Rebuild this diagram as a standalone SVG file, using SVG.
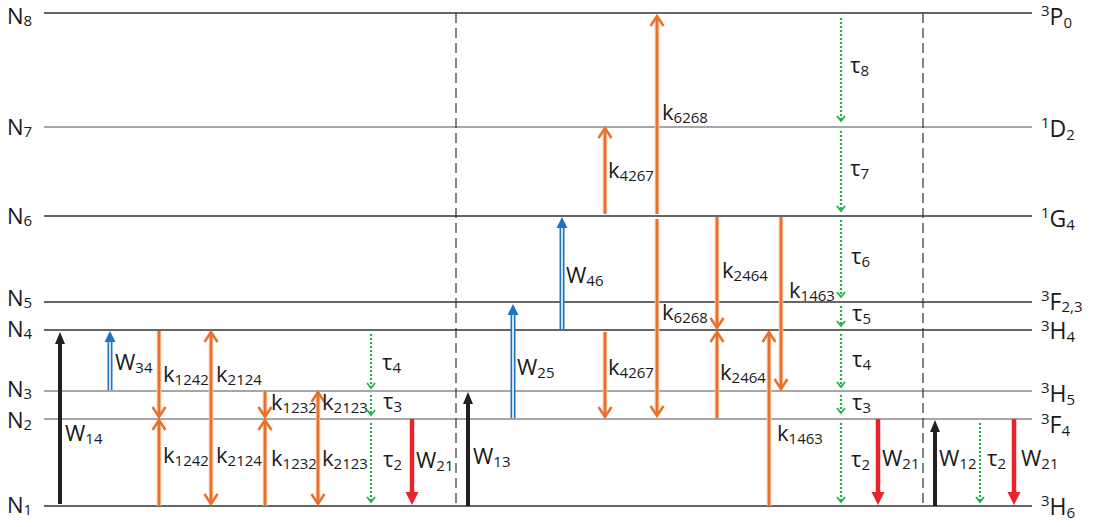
<svg xmlns="http://www.w3.org/2000/svg" width="1099" height="527" viewBox="0 0 1099 527">
<style>
text{font-family:"Open Sans","Noto Sans","DejaVu Sans",sans-serif;font-size:22px;fill:#1a1a1a}
.s{font-size:15px}
.lab{font-size:23px}
.lab .s{font-size:15px}
.nl{font-size:22px}
.nl .s{font-size:15px}
.lvl{stroke:#333;stroke-width:1.3}
.lg{stroke:#8a8a8a;stroke-width:1.5}
.sep{stroke:#333;stroke-width:1.2;stroke-dasharray:10 5}
.blk{stroke:#231f20;stroke-width:4;marker-end:url(#mk)}
.red{stroke:#e8232a;stroke-width:4.5;marker-end:url(#mr)}
.blu{stroke:#1f74c1;stroke-width:5;marker-end:url(#mb)}
.bluw{stroke:#fff;stroke-width:1.6}
.halo{stroke:#f6c09a;stroke-width:4.5}
.org{stroke:#e8702a;stroke-width:2.5;marker-end:url(#mo)}
.org2{stroke:#e8702a;stroke-width:2.5;marker-end:url(#mo);marker-start:url(#mo)}
.grn{stroke:#22b04b;stroke-width:2.2;stroke-dasharray:2 2;marker-end:url(#mg)}
</style>
<defs>
<marker id="mk" markerUnits="userSpaceOnUse" markerWidth="14" markerHeight="14" orient="auto" refX="0" refY="0" overflow="visible"><path d="M0,-5 L12,0 L0,5 Z" fill="#231f20"/></marker>
<marker id="mr" markerUnits="userSpaceOnUse" markerWidth="14" markerHeight="14" orient="auto" refX="0" refY="0" overflow="visible"><path d="M0,-6.5 L13,0 L0,6.5 Z" fill="#e8232a"/></marker>
<marker id="mb" markerUnits="userSpaceOnUse" markerWidth="14" markerHeight="14" orient="auto" refX="0" refY="0" overflow="visible"><path d="M0,-5.5 L11,0 L0,5.5 Z" fill="#1f74c1"/></marker>
<marker id="mo" markerUnits="userSpaceOnUse" markerWidth="14" markerHeight="14" orient="auto-start-reverse" refX="0" refY="0" overflow="visible"><path d="M-10,-6.5 L0,0 L-10,6.5" fill="none" stroke="#e8702a" stroke-width="2.5"/></marker>
<marker id="mg" markerUnits="userSpaceOnUse" markerWidth="10" markerHeight="10" orient="auto" refX="0" refY="0" overflow="visible"><path d="M-5,-4 L0,0 L-5,4" fill="none" stroke="#22b04b" stroke-width="1.8"/></marker>
</defs>
<rect width="1099" height="527" fill="#fff"/>

<g id="level-N8"><line class="lvl" x1="44" y1="13" x2="1032" y2="13" stroke="#555"/><text class="nl" x="7" y="24">N<tspan class="s" dy="2">8</tspan></text><text class="lab" x="1041" y="25"><tspan class="s" dy="-9">3</tspan><tspan dy="9">P</tspan><tspan class="s" dy="3">0</tspan></text></g>
<g id="level-N7"><line class="lg" x1="44" y1="127" x2="1032" y2="127"/><text class="nl" x="7" y="135">N<tspan class="s" dy="2">7</tspan></text><text class="lab" x="1041" y="137"><tspan class="s" dy="-9">1</tspan><tspan dy="9">D</tspan><tspan class="s" dy="3">2</tspan></text></g>
<g id="level-N6"><line class="lvl" x1="44" y1="216" x2="1032" y2="216"/><text class="nl" x="7" y="224">N<tspan class="s" dy="2">6</tspan></text><text class="lab" x="1041" y="227"><tspan class="s" dy="-9">1</tspan><tspan dy="9">G</tspan><tspan class="s" dy="3">4</tspan></text></g>
<g id="level-N5"><line class="lvl" x1="44" y1="302" x2="1032" y2="302"/><text class="nl" x="7" y="306">N<tspan class="s" dy="2">5</tspan></text><text class="lab" x="1041" y="310"><tspan class="s" dy="-9">3</tspan><tspan dy="9">F</tspan><tspan class="s" dy="2">2,3</tspan></text></g>
<g id="level-N4"><line class="lvl" x1="44" y1="330" x2="1032" y2="330"/><text class="nl" x="7" y="337">N<tspan class="s" dy="2">4</tspan></text><text class="lab" x="1041" y="339"><tspan class="s" dy="-8">3</tspan><tspan dy="8">H</tspan><tspan class="s" dy="3">4</tspan></text></g>
<g id="level-N3"><line class="lg" x1="44" y1="391" x2="1032" y2="391"/><text class="nl" x="7" y="397">N<tspan class="s" dy="2">3</tspan></text><text class="lab" x="1041" y="402"><tspan class="s" dy="-9">3</tspan><tspan dy="9">H</tspan><tspan class="s" dy="3">5</tspan></text></g>
<g id="level-N2"><line class="lg" x1="44" y1="419" x2="1032" y2="419"/><text class="nl" x="7" y="428">N<tspan class="s" dy="2">2</tspan></text><text class="lab" x="1041" y="433"><tspan class="s" dy="-9">3</tspan><tspan dy="9">F</tspan><tspan class="s" dy="3">4</tspan></text></g>
<g id="level-N1"><line class="lvl" x1="44" y1="506" x2="1032" y2="506"/><text class="nl" x="7" y="513">N<tspan class="s" dy="2">1</tspan></text><text class="lab" x="1041" y="515"><tspan class="s" dy="-9">3</tspan><tspan dy="9">H</tspan><tspan class="s" dy="3">6</tspan></text></g>

<g id="separators">
<line class="sep" x1="456" y1="13" x2="456" y2="506"/>
<line class="sep" x1="923" y1="13" x2="923" y2="506"/>
</g>

<g id="connectors">
<g id="W14"><line class="blk" x1="60" y1="504" x2="60" y2="344"/><text x="65" y="441">W<tspan class="s" dy="3">14</tspan></text></g>
<g id="W34"><line class="blu" x1="110" y1="390" x2="110" y2="342"/><line class="bluw" x1="110" y1="390" x2="110" y2="342"/><text x="115" y="370">W<tspan class="s" dy="3">34</tspan></text></g>
<g id="k1242"><line class="halo" x1="159" y1="331" x2="159" y2="413"/><line class="org" x1="159" y1="331" x2="159" y2="417"/><line class="halo" x1="159" y1="506" x2="159" y2="424"/><line class="org" x1="159" y1="506" x2="159" y2="420"/><text x="163" y="382">k<tspan class="s" dy="3">1242</tspan></text><text x="163" y="463">k<tspan class="s" dy="3">1242</tspan></text></g>
<g id="k2124"><line class="halo" x1="211" y1="336" x2="211" y2="500"/><line class="org2" x1="211" y1="332" x2="211" y2="504"/><text x="216" y="382">k<tspan class="s" dy="3">2124</tspan></text><text x="216" y="463">k<tspan class="s" dy="3">2124</tspan></text></g>
<g id="k1232"><line class="halo" x1="265" y1="391" x2="265" y2="413"/><line class="org" x1="265" y1="391" x2="265" y2="417"/><line class="halo" x1="265" y1="506" x2="265" y2="424"/><line class="org" x1="265" y1="506" x2="265" y2="420"/><text x="271" y="410">k<tspan class="s" dy="3">1232</tspan></text><text x="271" y="466">k<tspan class="s" dy="3">1232</tspan></text></g>
<g id="k2123"><line class="halo" x1="318" y1="396" x2="318" y2="500"/><line class="org2" x1="318" y1="392" x2="318" y2="504"/><text x="322" y="410">k<tspan class="s" dy="3">2123</tspan></text><text x="322" y="466">k<tspan class="s" dy="3">2123</tspan></text></g>
<g id="tau-left"><line class="grn" x1="371" y1="334" x2="371" y2="388"/><line class="grn" x1="371" y1="395" x2="371" y2="415"/><line class="grn" x1="371" y1="423" x2="371" y2="502"/><text x="382" y="370">τ<tspan class="s" dy="3">4</tspan></text><text x="383" y="409">τ<tspan class="s" dy="3">3</tspan></text><text x="383" y="467">τ<tspan class="s" dy="3">2</tspan></text></g>
<g id="W21-a"><line class="red" x1="412" y1="419" x2="412" y2="492"/><text x="416" y="468">W<tspan class="s" dy="3">21</tspan></text></g>
<g id="W13"><line class="blk" x1="468" y1="506" x2="468" y2="404"/><text x="473" y="464">W<tspan class="s" dy="3">13</tspan></text></g>
<g id="W25"><line class="blu" x1="513" y1="418" x2="513" y2="315"/><line class="bluw" x1="513" y1="418" x2="513" y2="315"/><text x="517" y="375">W<tspan class="s" dy="3">25</tspan></text></g>
<g id="W46"><line class="blu" x1="562" y1="329" x2="562" y2="228"/><line class="bluw" x1="562" y1="329" x2="562" y2="228"/><text x="566" y="283">W<tspan class="s" dy="3">46</tspan></text></g>
<g id="k4267"><line class="halo" x1="605" y1="214" x2="605" y2="132"/><line class="org" x1="605" y1="214" x2="605" y2="128"/><line class="halo" x1="605" y1="332" x2="605" y2="413"/><line class="org" x1="605" y1="332" x2="605" y2="417"/><text x="608" y="178">k<tspan class="s" dy="3">4267</tspan></text><text x="608" y="375">k<tspan class="s" dy="3">4267</tspan></text></g>
<g id="k6268"><line class="halo" x1="657" y1="214" x2="657" y2="20"/><line class="org" x1="657" y1="214" x2="657" y2="16"/><line class="halo" x1="657" y1="219" x2="657" y2="412"/><line class="org" x1="657" y1="219" x2="657" y2="416"/><text x="662" y="120">k<tspan class="s" dy="3">6268</tspan></text><text x="662" y="320">k<tspan class="s" dy="3">6268</tspan></text></g>
<g id="k2464"><line class="halo" x1="717" y1="217" x2="717" y2="324"/><line class="org" x1="717" y1="217" x2="717" y2="328"/><line class="halo" x1="717" y1="418" x2="717" y2="336"/><line class="org" x1="717" y1="418" x2="717" y2="332"/><text x="722" y="278">k<tspan class="s" dy="3">2464</tspan></text><text x="720" y="380">k<tspan class="s" dy="3">2464</tspan></text></g>
<g id="k1463"><line class="halo" x1="781" y1="217" x2="781" y2="385"/><line class="org" x1="781" y1="217" x2="781" y2="389"/><line class="halo" x1="769" y1="506" x2="769" y2="336"/><line class="org" x1="769" y1="506" x2="769" y2="332"/><text x="789" y="298">k<tspan class="s" dy="3">1463</tspan></text><text x="777" y="441">k<tspan class="s" dy="3">1463</tspan></text></g>
<g id="tau-mid"><line class="grn" x1="841" y1="18" x2="841" y2="121"/><line class="grn" x1="841" y1="131" x2="841" y2="211"/><line class="grn" x1="841" y1="220" x2="841" y2="297"/><line class="grn" x1="841" y1="306" x2="841" y2="326"/><line class="grn" x1="841" y1="334" x2="841" y2="387"/><line class="grn" x1="841" y1="395" x2="841" y2="413"/><line class="grn" x1="841" y1="423" x2="841" y2="502"/>
<text x="850" y="73">τ<tspan class="s" dy="3">8</tspan></text><text x="850" y="176">τ<tspan class="s" dy="3">7</tspan></text><text x="851" y="264">τ<tspan class="s" dy="3">6</tspan></text><text x="852" y="321">τ<tspan class="s" dy="3">5</tspan></text><text x="852" y="367">τ<tspan class="s" dy="3">4</tspan></text><text x="852" y="410">τ<tspan class="s" dy="3">3</tspan></text><text x="851" y="467">τ<tspan class="s" dy="3">2</tspan></text></g>
<g id="W21-b"><line class="red" x1="878" y1="419" x2="878" y2="492"/><text x="882" y="466">W<tspan class="s" dy="3">21</tspan></text></g>
<g id="W12"><line class="blk" x1="935" y1="506" x2="935" y2="432"/><text x="939" y="466">W<tspan class="s" dy="3">12</tspan></text></g>
<g id="tau-right"><line class="grn" x1="980" y1="423" x2="980" y2="502"/><text x="987" y="466">τ<tspan class="s" dy="3">2</tspan></text></g>
<g id="W21-c"><line class="red" x1="1014" y1="419" x2="1014" y2="492"/><text x="1021" y="466">W<tspan class="s" dy="3">21</tspan></text></g>
</g>
</svg>
